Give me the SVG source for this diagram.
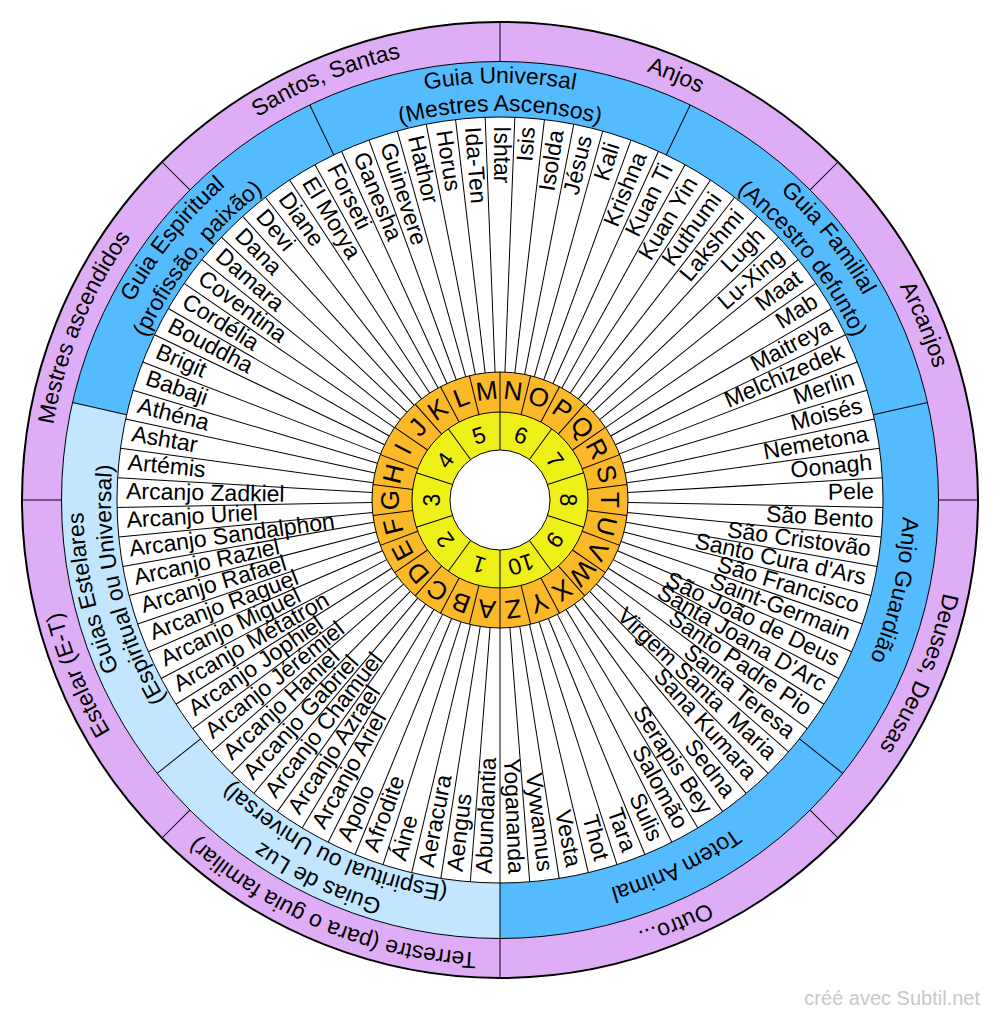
<svg xmlns="http://www.w3.org/2000/svg" xmlns:xlink="http://www.w3.org/1999/xlink" width="1000" height="1019" viewBox="0 0 1000 1019">
<style>
text{font-family:"Liberation Sans",Arial,sans-serif;fill:#000}
.nl{font-size:23px;text-anchor:start}
.nr{font-size:23px;text-anchor:end}
.lt{font-size:26px;text-anchor:middle}
.nm{font-size:23px;text-anchor:middle}
.rl{font-size:23px;text-anchor:middle}
.wm{font-size:20px;fill:#c8c8c8;text-anchor:end}
.ln{stroke:#000;stroke-width:1;fill:none}
</style>
<defs>
<line id="sp" x1="500" y1="117" x2="500" y2="372"/>
<line id="od" x1="500" y1="372" x2="500" y2="412"/>
<line id="yd" x1="500" y1="412" x2="500" y2="450"/>
<line id="bd" x1="500" y1="61.5" x2="500" y2="117"/>
<line id="pd" x1="500" y1="22" x2="500" y2="61.5"/>
<path id="c453" d="M500,953 A453,453 0 1 1 500,47 A453,453 0 1 1 500,953"/>
<path id="c417" d="M500,917 A417,417 0 1 1 500,83 A417,417 0 1 1 500,917"/>
<path id="c403" d="M500,903 A403,403 0 1 1 500,97 A403,403 0 1 1 500,903"/>
<path id="c389" d="M500,889 A389,389 0 1 1 500,111 A389,389 0 1 1 500,889"/>
</defs>
<rect width="1000" height="1019" fill="#fff"/>
<g id="rings">
<circle cx="500" cy="500" r="478" fill="#dfadf6"/>
<circle cx="500" cy="500" r="438.5" fill="#55bbff"/>
<path d="M500,500 L500,938.5 A438.5,438.5 0 0 1 72.494,402.425 Z" fill="#c2e6ff"/>
<circle cx="500" cy="500" r="383" fill="#fff"/>
<circle cx="500" cy="500" r="128" fill="#fbb829"/>
<circle cx="500" cy="500" r="88" fill="#eef018"/>
<circle cx="500" cy="500" r="50" fill="#fff"/>
</g>
<g id="connectors" class="ln">
<use xlink:href="#pd" transform="rotate(0 500 500)"/>
<use xlink:href="#pd" transform="rotate(45 500 500)"/>
<use xlink:href="#pd" transform="rotate(90 500 500)"/>
<use xlink:href="#pd" transform="rotate(135 500 500)"/>
<use xlink:href="#pd" transform="rotate(180 500 500)"/>
<use xlink:href="#pd" transform="rotate(225 500 500)"/>
<use xlink:href="#pd" transform="rotate(270 500 500)"/>
<use xlink:href="#pd" transform="rotate(315 500 500)"/>
<use xlink:href="#bd" transform="rotate(25.714 500 500)"/>
<use xlink:href="#bd" transform="rotate(77.143 500 500)"/>
<use xlink:href="#bd" transform="rotate(128.571 500 500)"/>
<use xlink:href="#bd" transform="rotate(180 500 500)"/>
<use xlink:href="#bd" transform="rotate(231.429 500 500)"/>
<use xlink:href="#bd" transform="rotate(282.857 500 500)"/>
<use xlink:href="#bd" transform="rotate(334.286 500 500)"/>
<use xlink:href="#sp" transform="rotate(2.222 500 500)"/>
<use xlink:href="#sp" transform="rotate(6.667 500 500)"/>
<use xlink:href="#sp" transform="rotate(11.111 500 500)"/>
<use xlink:href="#sp" transform="rotate(15.556 500 500)"/>
<use xlink:href="#sp" transform="rotate(20 500 500)"/>
<use xlink:href="#sp" transform="rotate(24.444 500 500)"/>
<use xlink:href="#sp" transform="rotate(28.889 500 500)"/>
<use xlink:href="#sp" transform="rotate(33.333 500 500)"/>
<use xlink:href="#sp" transform="rotate(37.778 500 500)"/>
<use xlink:href="#sp" transform="rotate(42.222 500 500)"/>
<use xlink:href="#sp" transform="rotate(46.667 500 500)"/>
<use xlink:href="#sp" transform="rotate(51.111 500 500)"/>
<use xlink:href="#sp" transform="rotate(55.556 500 500)"/>
<use xlink:href="#sp" transform="rotate(60 500 500)"/>
<use xlink:href="#sp" transform="rotate(64.444 500 500)"/>
<use xlink:href="#sp" transform="rotate(68.889 500 500)"/>
<use xlink:href="#sp" transform="rotate(73.333 500 500)"/>
<use xlink:href="#sp" transform="rotate(77.778 500 500)"/>
<use xlink:href="#sp" transform="rotate(82.222 500 500)"/>
<use xlink:href="#sp" transform="rotate(86.667 500 500)"/>
<use xlink:href="#sp" transform="rotate(91.111 500 500)"/>
<use xlink:href="#sp" transform="rotate(95.556 500 500)"/>
<use xlink:href="#sp" transform="rotate(100 500 500)"/>
<use xlink:href="#sp" transform="rotate(104.444 500 500)"/>
<use xlink:href="#sp" transform="rotate(108.889 500 500)"/>
<use xlink:href="#sp" transform="rotate(113.333 500 500)"/>
<use xlink:href="#sp" transform="rotate(117.778 500 500)"/>
<use xlink:href="#sp" transform="rotate(122.222 500 500)"/>
<use xlink:href="#sp" transform="rotate(126.667 500 500)"/>
<use xlink:href="#sp" transform="rotate(131.111 500 500)"/>
<use xlink:href="#sp" transform="rotate(135.556 500 500)"/>
<use xlink:href="#sp" transform="rotate(140 500 500)"/>
<use xlink:href="#sp" transform="rotate(144.444 500 500)"/>
<use xlink:href="#sp" transform="rotate(148.889 500 500)"/>
<use xlink:href="#sp" transform="rotate(153.333 500 500)"/>
<use xlink:href="#sp" transform="rotate(157.778 500 500)"/>
<use xlink:href="#sp" transform="rotate(162.222 500 500)"/>
<use xlink:href="#sp" transform="rotate(166.667 500 500)"/>
<use xlink:href="#sp" transform="rotate(171.111 500 500)"/>
<use xlink:href="#sp" transform="rotate(175.556 500 500)"/>
<use xlink:href="#sp" transform="rotate(180 500 500)"/>
<use xlink:href="#sp" transform="rotate(184.444 500 500)"/>
<use xlink:href="#sp" transform="rotate(188.889 500 500)"/>
<use xlink:href="#sp" transform="rotate(193.333 500 500)"/>
<use xlink:href="#sp" transform="rotate(197.778 500 500)"/>
<use xlink:href="#sp" transform="rotate(202.222 500 500)"/>
<use xlink:href="#sp" transform="rotate(206.667 500 500)"/>
<use xlink:href="#sp" transform="rotate(211.111 500 500)"/>
<use xlink:href="#sp" transform="rotate(215.556 500 500)"/>
<use xlink:href="#sp" transform="rotate(220 500 500)"/>
<use xlink:href="#sp" transform="rotate(224.444 500 500)"/>
<use xlink:href="#sp" transform="rotate(228.889 500 500)"/>
<use xlink:href="#sp" transform="rotate(233.333 500 500)"/>
<use xlink:href="#sp" transform="rotate(237.778 500 500)"/>
<use xlink:href="#sp" transform="rotate(242.222 500 500)"/>
<use xlink:href="#sp" transform="rotate(246.667 500 500)"/>
<use xlink:href="#sp" transform="rotate(251.111 500 500)"/>
<use xlink:href="#sp" transform="rotate(255.556 500 500)"/>
<use xlink:href="#sp" transform="rotate(260 500 500)"/>
<use xlink:href="#sp" transform="rotate(264.444 500 500)"/>
<use xlink:href="#sp" transform="rotate(268.889 500 500)"/>
<use xlink:href="#sp" transform="rotate(273.333 500 500)"/>
<use xlink:href="#sp" transform="rotate(277.778 500 500)"/>
<use xlink:href="#sp" transform="rotate(282.222 500 500)"/>
<use xlink:href="#sp" transform="rotate(286.667 500 500)"/>
<use xlink:href="#sp" transform="rotate(291.111 500 500)"/>
<use xlink:href="#sp" transform="rotate(295.556 500 500)"/>
<use xlink:href="#sp" transform="rotate(300 500 500)"/>
<use xlink:href="#sp" transform="rotate(304.444 500 500)"/>
<use xlink:href="#sp" transform="rotate(308.889 500 500)"/>
<use xlink:href="#sp" transform="rotate(313.333 500 500)"/>
<use xlink:href="#sp" transform="rotate(317.778 500 500)"/>
<use xlink:href="#sp" transform="rotate(322.222 500 500)"/>
<use xlink:href="#sp" transform="rotate(326.667 500 500)"/>
<use xlink:href="#sp" transform="rotate(331.111 500 500)"/>
<use xlink:href="#sp" transform="rotate(335.556 500 500)"/>
<use xlink:href="#sp" transform="rotate(340 500 500)"/>
<use xlink:href="#sp" transform="rotate(344.444 500 500)"/>
<use xlink:href="#sp" transform="rotate(348.889 500 500)"/>
<use xlink:href="#sp" transform="rotate(353.333 500 500)"/>
<use xlink:href="#sp" transform="rotate(357.778 500 500)"/>
<use xlink:href="#od" transform="rotate(0 500 500)"/>
<use xlink:href="#od" transform="rotate(13.846 500 500)"/>
<use xlink:href="#od" transform="rotate(27.692 500 500)"/>
<use xlink:href="#od" transform="rotate(41.538 500 500)"/>
<use xlink:href="#od" transform="rotate(55.385 500 500)"/>
<use xlink:href="#od" transform="rotate(69.231 500 500)"/>
<use xlink:href="#od" transform="rotate(83.077 500 500)"/>
<use xlink:href="#od" transform="rotate(96.923 500 500)"/>
<use xlink:href="#od" transform="rotate(110.769 500 500)"/>
<use xlink:href="#od" transform="rotate(124.615 500 500)"/>
<use xlink:href="#od" transform="rotate(138.462 500 500)"/>
<use xlink:href="#od" transform="rotate(152.308 500 500)"/>
<use xlink:href="#od" transform="rotate(166.154 500 500)"/>
<use xlink:href="#od" transform="rotate(180 500 500)"/>
<use xlink:href="#od" transform="rotate(193.846 500 500)"/>
<use xlink:href="#od" transform="rotate(207.692 500 500)"/>
<use xlink:href="#od" transform="rotate(221.538 500 500)"/>
<use xlink:href="#od" transform="rotate(235.385 500 500)"/>
<use xlink:href="#od" transform="rotate(249.231 500 500)"/>
<use xlink:href="#od" transform="rotate(263.077 500 500)"/>
<use xlink:href="#od" transform="rotate(276.923 500 500)"/>
<use xlink:href="#od" transform="rotate(290.769 500 500)"/>
<use xlink:href="#od" transform="rotate(304.615 500 500)"/>
<use xlink:href="#od" transform="rotate(318.462 500 500)"/>
<use xlink:href="#od" transform="rotate(332.308 500 500)"/>
<use xlink:href="#od" transform="rotate(346.154 500 500)"/>
<use xlink:href="#yd" transform="rotate(0 500 500)"/>
<use xlink:href="#yd" transform="rotate(36 500 500)"/>
<use xlink:href="#yd" transform="rotate(72 500 500)"/>
<use xlink:href="#yd" transform="rotate(108 500 500)"/>
<use xlink:href="#yd" transform="rotate(144 500 500)"/>
<use xlink:href="#yd" transform="rotate(180 500 500)"/>
<use xlink:href="#yd" transform="rotate(216 500 500)"/>
<use xlink:href="#yd" transform="rotate(252 500 500)"/>
<use xlink:href="#yd" transform="rotate(288 500 500)"/>
<use xlink:href="#yd" transform="rotate(324 500 500)"/>
</g>
<g id="outlines" class="ln">
<circle cx="500" cy="500" r="478" stroke-width="2"/>
<circle cx="500" cy="500" r="438.5"/>
<circle cx="500" cy="500" r="383"/>
<circle cx="500" cy="500" r="128"/>
<circle cx="500" cy="500" r="88"/>
<circle cx="500" cy="500" r="50"/>
</g>
<g id="outer-ring-labels" class="rl">
<text><textPath xlink:href="#c453" startOffset="56.25%">Anjos</textPath></text>
<text><textPath xlink:href="#c453" startOffset="68.75%">Arcanjos</textPath></text>
<text><textPath xlink:href="#c453" startOffset="81.25%">Deuses, Deusas</textPath></text>
<text><textPath xlink:href="#c453" startOffset="93.75%">Outro...</textPath></text>
<text><textPath xlink:href="#c453" startOffset="6.25%">Terrestre (para o guia familiar)</textPath></text>
<text><textPath xlink:href="#c453" startOffset="18.75%">Estelar (E-T)</textPath></text>
<text><textPath xlink:href="#c453" startOffset="31.25%">Mestres ascendidos</textPath></text>
<text><textPath xlink:href="#c453" startOffset="43.75%">Santos, Santas</textPath></text>
</g>
<g id="guide-ring-labels" class="rl">
<text><textPath xlink:href="#c417" startOffset="50%">Guia Universal</textPath></text>
<text><textPath xlink:href="#c389" startOffset="50%">(Mestres Ascensos)</textPath></text>
<text><textPath xlink:href="#c417" startOffset="64.286%">Guia Familial</textPath></text>
<text><textPath xlink:href="#c389" startOffset="64.286%">(Ancestro defunto)</textPath></text>
<text><textPath xlink:href="#c403" startOffset="78.571%">Anjo Guardião</textPath></text>
<text><textPath xlink:href="#c403" startOffset="92.857%">Totem Animal</textPath></text>
<text><textPath xlink:href="#c417" startOffset="7.143%">Guias de Luz</textPath></text>
<text><textPath xlink:href="#c389" startOffset="7.143%">(Espiritual ou Universal)</textPath></text>
<text><textPath xlink:href="#c417" startOffset="21.429%">Guias Estelares</textPath></text>
<text><textPath xlink:href="#c389" startOffset="21.429%">(Espiritual ou Universal)</textPath></text>
<text><textPath xlink:href="#c417" startOffset="35.714%">Guia Espiritual</textPath></text>
<text><textPath xlink:href="#c389" startOffset="35.714%">(profissão, paixão)</textPath></text>
</g>
<g id="names-left" class="nl">
<text transform="rotate(-87.778 500 500)" x="126" y="506">Abundantia</text>
<text transform="rotate(-83.333 500 500)" x="126" y="506">Aengus</text>
<text transform="rotate(-78.889 500 500)" x="126" y="506">Aeracura</text>
<text transform="rotate(-74.444 500 500)" x="126" y="506">Áine</text>
<text transform="rotate(-70 500 500)" x="126" y="506">Afrodite</text>
<text transform="rotate(-65.556 500 500)" x="126" y="506">Apolo</text>
<text transform="rotate(-61.111 500 500)" x="126" y="506">Arcanjo Ariel</text>
<text transform="rotate(-56.667 500 500)" x="126" y="506">Arcanjo Azrael</text>
<text transform="rotate(-52.222 500 500)" x="126" y="506">Arcanjo Chamuel</text>
<text transform="rotate(-47.778 500 500)" x="126" y="506">Arcanjo Gabriel</text>
<text transform="rotate(-43.333 500 500)" x="126" y="506">Arcanjo Haniel</text>
<text transform="rotate(-38.889 500 500)" x="126" y="506">Arcanjo Jérémiel</text>
<text transform="rotate(-34.444 500 500)" x="126" y="506">Arcanjo Jophiel</text>
<text transform="rotate(-30 500 500)" x="126" y="506">Arcanjo Métatron</text>
<text transform="rotate(-25.556 500 500)" x="126" y="506">Arcanjo Miguel</text>
<text transform="rotate(-21.111 500 500)" x="126" y="506">Arcanjo Raguel</text>
<text transform="rotate(-16.667 500 500)" x="126" y="506">Arcanjo Rafael</text>
<text transform="rotate(-12.222 500 500)" x="126" y="506">Arcanjo Raziel</text>
<text transform="rotate(-7.778 500 500)" x="126" y="506">Arcanjo Sandalphon</text>
<text transform="rotate(-3.333 500 500)" x="126" y="506">Arcanjo Uriel</text>
<text transform="rotate(1.111 500 500)" x="126" y="506">Arcanjo Zadkiel</text>
<text transform="rotate(5.556 500 500)" x="126" y="506">Artémis</text>
<text transform="rotate(10 500 500)" x="126" y="506">Ashtar</text>
<text transform="rotate(14.444 500 500)" x="126" y="506">Athéna</text>
<text transform="rotate(18.889 500 500)" x="126" y="506">Babaji</text>
<text transform="rotate(23.333 500 500)" x="126" y="506">Brigit</text>
<text transform="rotate(27.778 500 500)" x="126" y="506">Bouddha</text>
<text transform="rotate(32.222 500 500)" x="126" y="506">Cordélia</text>
<text transform="rotate(36.667 500 500)" x="126" y="506">Coventina</text>
<text transform="rotate(41.111 500 500)" x="126" y="506">Damara</text>
<text transform="rotate(45.556 500 500)" x="126" y="506">Dana</text>
<text transform="rotate(50 500 500)" x="126" y="506">Devi</text>
<text transform="rotate(54.444 500 500)" x="126" y="506">Diane</text>
<text transform="rotate(58.889 500 500)" x="126" y="506">El Morya</text>
<text transform="rotate(63.333 500 500)" x="126" y="506">Forseti</text>
<text transform="rotate(67.778 500 500)" x="126" y="506">Ganesha</text>
<text transform="rotate(72.222 500 500)" x="126" y="506">Guinevere</text>
<text transform="rotate(76.667 500 500)" x="126" y="506">Hathor</text>
<text transform="rotate(81.111 500 500)" x="126" y="506">Horus</text>
<text transform="rotate(85.556 500 500)" x="126" y="506">Ida-Ten</text>
<text transform="rotate(90 500 500)" x="126" y="506">Ishtar</text>
</g>
<g id="names-right" class="nr">
<text transform="rotate(-85.556 500 500)" x="874" y="506">Isis</text>
<text transform="rotate(-81.111 500 500)" x="874" y="506">Isolda</text>
<text transform="rotate(-76.667 500 500)" x="874" y="506">Jésus</text>
<text transform="rotate(-72.222 500 500)" x="874" y="506">Kali</text>
<text transform="rotate(-67.778 500 500)" x="874" y="506">Krishna</text>
<text transform="rotate(-63.333 500 500)" x="874" y="506">Kuan Ti</text>
<text transform="rotate(-58.889 500 500)" x="874" y="506">Kuan Yin</text>
<text transform="rotate(-54.444 500 500)" x="874" y="506">Kuthumi</text>
<text transform="rotate(-50 500 500)" x="874" y="506">Lakshmi</text>
<text transform="rotate(-45.556 500 500)" x="874" y="506">Lugh</text>
<text transform="rotate(-41.111 500 500)" x="874" y="506">Lu-Xing</text>
<text transform="rotate(-36.667 500 500)" x="874" y="506">Maat</text>
<text transform="rotate(-32.222 500 500)" x="874" y="506">Mab</text>
<text transform="rotate(-27.778 500 500)" x="874" y="506">Maitreya</text>
<text transform="rotate(-23.333 500 500)" x="874" y="506">Melchizedek</text>
<text transform="rotate(-18.889 500 500)" x="874" y="506">Merlin</text>
<text transform="rotate(-14.444 500 500)" x="874" y="506">Moisés</text>
<text transform="rotate(-10 500 500)" x="874" y="506">Nemetona</text>
<text transform="rotate(-5.556 500 500)" x="874" y="506">Oonagh</text>
<text transform="rotate(-1.111 500 500)" x="874" y="506">Pele</text>
<text transform="rotate(3.333 500 500)" x="874" y="506">São Bento</text>
<text transform="rotate(7.778 500 500)" x="874" y="506">São Cristovão</text>
<text transform="rotate(12.222 500 500)" x="874" y="506">Santo Cura d'Ars</text>
<text transform="rotate(16.667 500 500)" x="874" y="506">São Francisco</text>
<text transform="rotate(21.111 500 500)" x="874" y="506">Saint-Germain</text>
<text transform="rotate(25.556 500 500)" x="874" y="506">São João de Deus</text>
<text transform="rotate(30 500 500)" x="874" y="506">Santa Joana D'Arc</text>
<text transform="rotate(34.444 500 500)" x="874" y="506">Santo Padre Pio</text>
<text transform="rotate(38.889 500 500)" x="874" y="506">Santa Teresa</text>
<text transform="rotate(43.333 500 500)" x="874" y="506" xml:space="preserve">Virgem Santa  Maria</text>
<text transform="rotate(47.778 500 500)" x="874" y="506">Sana Kumara</text>
<text transform="rotate(52.222 500 500)" x="874" y="506">Sedna</text>
<text transform="rotate(56.667 500 500)" x="874" y="506">Serapis Bey</text>
<text transform="rotate(61.111 500 500)" x="874" y="506">Salomão</text>
<text transform="rotate(65.556 500 500)" x="874" y="506">Sulis</text>
<text transform="rotate(70 500 500)" x="874" y="506">Tara</text>
<text transform="rotate(74.444 500 500)" x="874" y="506">Thot</text>
<text transform="rotate(78.889 500 500)" x="874" y="506">Vesta</text>
<text transform="rotate(83.333 500 500)" x="874" y="506">Vywamus</text>
<text transform="rotate(87.778 500 500)" x="874" y="506">Yogananda</text>
</g>
<g id="letters" class="lt">
<text transform="rotate(6.923 500 500)" x="500" y="399">N</text>
<text transform="rotate(20.769 500 500)" x="500" y="399">O</text>
<text transform="rotate(34.615 500 500)" x="500" y="399">P</text>
<text transform="rotate(48.462 500 500)" x="500" y="399">Q</text>
<text transform="rotate(62.308 500 500)" x="500" y="399">R</text>
<text transform="rotate(76.154 500 500)" x="500" y="399">S</text>
<text transform="rotate(90 500 500)" x="500" y="399">T</text>
<text transform="rotate(103.846 500 500)" x="500" y="399">U</text>
<text transform="rotate(117.692 500 500)" x="500" y="399">V</text>
<text transform="rotate(131.538 500 500)" x="500" y="399">W</text>
<text transform="rotate(145.385 500 500)" x="500" y="399">X</text>
<text transform="rotate(159.231 500 500)" x="500" y="399">Y</text>
<text transform="rotate(173.077 500 500)" x="500" y="399">Z</text>
<text transform="rotate(186.923 500 500)" x="500" y="399">A</text>
<text transform="rotate(200.769 500 500)" x="500" y="399">B</text>
<text transform="rotate(214.615 500 500)" x="500" y="399">C</text>
<text transform="rotate(228.462 500 500)" x="500" y="399">D</text>
<text transform="rotate(242.308 500 500)" x="500" y="399">E</text>
<text transform="rotate(256.154 500 500)" x="500" y="399">F</text>
<text transform="rotate(270 500 500)" x="500" y="399">G</text>
<text transform="rotate(283.846 500 500)" x="500" y="399">H</text>
<text transform="rotate(297.692 500 500)" x="500" y="399">I</text>
<text transform="rotate(311.538 500 500)" x="500" y="399">J</text>
<text transform="rotate(325.385 500 500)" x="500" y="399">K</text>
<text transform="rotate(339.231 500 500)" x="500" y="399">L</text>
<text transform="rotate(353.077 500 500)" x="500" y="399">M</text>
</g>
<g id="numbers" class="nm">
<text transform="rotate(18 500 500)" x="500" y="440">6</text>
<text transform="rotate(54 500 500)" x="500" y="440">7</text>
<text transform="rotate(90 500 500)" x="500" y="440">8</text>
<text transform="rotate(126 500 500)" x="500" y="440">9</text>
<text transform="rotate(162 500 500)" x="500" y="440">10</text>
<text transform="rotate(198 500 500)" x="500" y="440">1</text>
<text transform="rotate(234 500 500)" x="500" y="440">2</text>
<text transform="rotate(270 500 500)" x="500" y="440">3</text>
<text transform="rotate(306 500 500)" x="500" y="440">4</text>
<text transform="rotate(342 500 500)" x="500" y="440">5</text>
</g>
<text id="watermark" class="wm" x="980" y="1005">créé avec Subtil.net</text>
</svg>
